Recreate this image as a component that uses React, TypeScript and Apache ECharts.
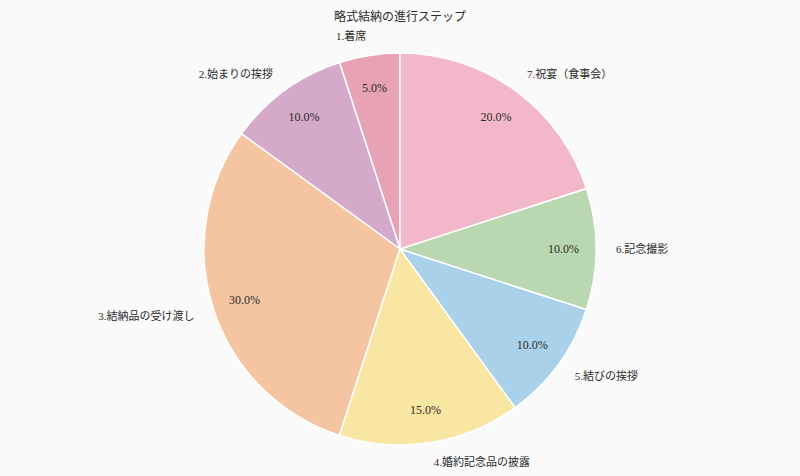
import React, { useEffect, useRef } from "react";
import * as echarts from "echarts";

const titleText = "略式結納の進行ステップ";
const categories = [
  "1.着席",
  "2.始まりの挨拶",
  "3.結納品の受け渡し",
  "4.婚約記念品の披露",
  "5.結びの挨拶",
  "6.記念撮影",
  "7.祝宴（食事会）",
];
const values = [5, 10, 30, 15, 10, 10, 20];
const colors = ["#e8a2b5", "#d4a9c9", "#f5c5a2", "#f8e6a2", "#a9d1e9", "#b9d8b1", "#f2b8ca"];

const FONT = '"Liberation Serif", "DejaVu Serif", "Noto Sans CJK JP", serif';

export default function App() {
  const ref = useRef<HTMLDivElement>(null);
  useEffect(() => {
    if (!ref.current) return;
    const chart = echarts.init(ref.current, undefined, { renderer: "svg" });
    const total = values.reduce((a, b) => a + b, 0);
    const data = categories.map((name, i) => ({
      name,
      value: values[i],
      itemStyle: { color: colors[i] },
    }));
    chart.setOption({
      animation: false,
      backgroundColor: "#fafafa",
      title: {
        text: titleText,
        left: "center",
        top: 6,
        textStyle: { fontFamily: FONT, fontSize: 12, fontWeight: "normal", color: "#2a2a2a" },
      },
      series: [
        {
          type: "pie",
          center: [400, 249],
          radius: [0, 196],
          startAngle: 90,
          clockwise: false,
          silent: true,
          data,
          itemStyle: { borderColor: "#ffffff", borderWidth: 1.5 },
          label: {
            show: true,
            position: "outside",
            formatter: "{b}",
            fontFamily: FONT,
            fontSize: 11,
            color: "#2a2a2a",
            distanceToLabelLine: 0,
          },
          labelLine: { show: false, length: 20, length2: 0 },
        },
        {
          type: "pie",
          center: [400, 249],
          radius: [125, 196],
          startAngle: 90,
          clockwise: false,
          silent: true,
          data: categories.map((name, i) => ({
            name,
            value: values[i],
            itemStyle: { color: "rgba(0,0,0,0)" },
          })),
          itemStyle: { borderWidth: 0 },
          label: {
            show: true,
            position: "inside",
            formatter: (p: any) => ((p.value / total) * 100).toFixed(1) + "%",
            fontFamily: FONT,
            fontSize: 12,
            color: "#2a2a2a",
          },
          labelLine: { show: false },
        },
      ],
    });
    return () => chart.dispose();
  }, []);
  return (
    <div
      ref={ref}
      style={{ position: "absolute", left: 0, top: 0, width: 800, height: 476 }}
    />
  );
}
